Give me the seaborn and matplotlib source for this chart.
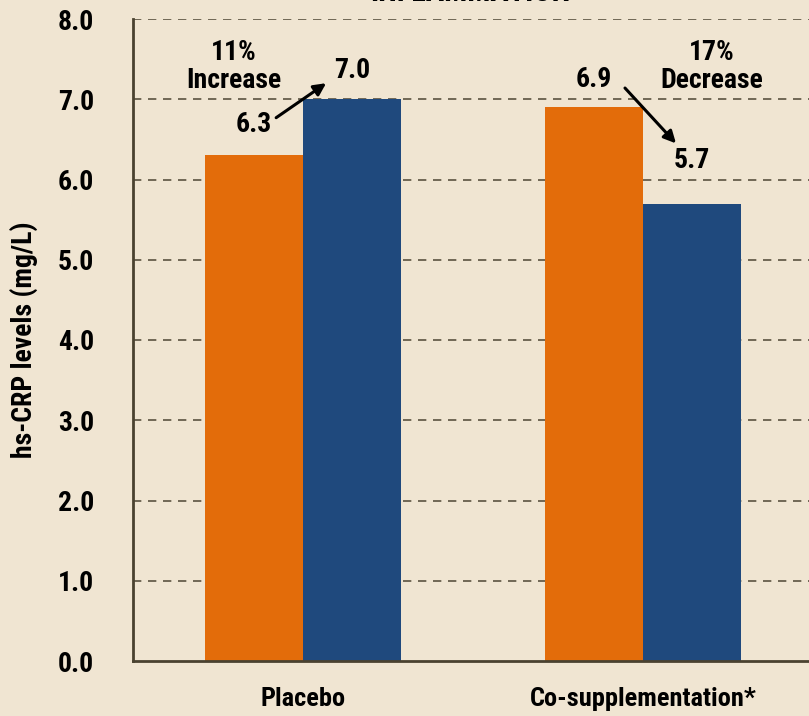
import matplotlib
matplotlib.use("Agg")
import matplotlib.pyplot as plt
import seaborn as sns
import pandas as pd
import numpy as np
from matplotlib.ticker import FixedLocator

# ---- data ----
groups = ["Placebo", "Co-supplementation*"]
timepoints = ["Baseline", "Follow-up"]
baseline = [6.3, 6.9]
followup = [7.0, 5.7]
change_labels = ["11%\nIncrease", "17%\nDecrease"]
yticks = [0.0, 1.0, 2.0, 3.0, 4.0, 5.0, 6.0, 7.0, 8.0]
title = "INFLAMMATION"
ylabel = "hs-CRP levels (mg/L)"

df = pd.DataFrame({
    "group": groups * 2,
    "time": [timepoints[0]] * 2 + [timepoints[1]] * 2,
    "value": baseline + followup,
})

BG = "#F0E5D2"
ORANGE = "#E36C0A"
BLUE = "#1F497D"
AX = "#4A4230"
FONT = ["Roboto Condensed", "Liberation Sans Narrow", "DejaVu Sans"]
ST = "condensed"

sns.set_theme(style="white")
plt.rcParams["font.family"] = FONT
plt.rcParams["font.stretch"] = ST
plt.rcParams["font.weight"] = "bold"
plt.rcParams["text.color"] = "black"
plt.rcParams["xtick.labelcolor"] = "black"
plt.rcParams["ytick.labelcolor"] = "black"
plt.rcParams["axes.labelcolor"] = "black"

fig = plt.figure(figsize=(8.09, 7.16), dpi=100, facecolor=BG)
ax = fig.add_axes([133 / 809, 1 - 661 / 716, (813 - 133) / 809, (661 - 19) / 716])
ax.set_facecolor(BG)

sns.barplot(data=df, x="group", y="value", hue="time", order=groups,
            hue_order=timepoints, palette=[ORANGE, BLUE], width=0.575,
            legend=False, ax=ax, errorbar=None, saturation=1, linewidth=0)

ax.set_xlim(-0.5, 1.5)
ax.set_ylim(0, 8)
ax.set_yticks(yticks)
ax.set_yticklabels([f"{t:.1f}" for t in yticks])
ax.xaxis.set_minor_locator(FixedLocator([-0.5, 0.5, 1.5]))
ax.tick_params(axis="x", which="major", length=0, pad=19, labelsize=19)
ax.tick_params(axis="x", which="minor", length=8, width=1.5, color=AX, direction="out")
ax.tick_params(axis="y", length=11, width=1.5, color=AX, labelsize=20, pad=17)
for lab in ax.get_xticklabels() + ax.get_yticklabels():
    lab.set_fontweight("bold")
    lab.set_family(FONT)
    lab.set_stretch(ST)
    lab.set_color("black")

for sp in ["top", "right"]:
    ax.spines[sp].set_visible(False)
for sp in ["left", "bottom"]:
    ax.spines[sp].set_color(AX)
    ax.spines[sp].set_linewidth(2)

for t in yticks[1:]:
    ax.axhline(t, color="#5A5240", lw=1.2, ls=(0, (5, 4)), zorder=0)

ax.set_xlabel("")
ax.set_ylabel(ylabel, fontsize=20, fontweight="bold", labelpad=14, family=FONT,
              fontstretch=ST, color="black")

off = 0.1437
tk = dict(fontsize=20, fontweight="bold", ha="center", va="center", family=FONT,
          fontstretch=ST, color="black")
for i in range(len(groups)):
    ax.text(i - off, baseline[i] + (0.38 if i == 0 else 0.34), f"{baseline[i]:.1f}", **tk)
    ax.text(i + off, followup[i] + (0.36 if i == 0 else 0.54), f"{followup[i]:.1f}", **tk)

ax.text(0 - 0.203, 7.41, change_labels[0], linespacing=1.08, **tk)
ax.text(1 + 0.203, 7.41, change_labels[1], linespacing=1.08, **tk)

arrow = dict(arrowstyle="-|>,head_length=0.6,head_width=0.3", color="black", lw=2.2,
             shrinkA=0, shrinkB=0)
ax.annotate("", xy=(0.068, 7.20), xytext=(-0.079, 6.77), arrowprops=arrow)
ax.annotate("", xy=(1.097, 6.45), xytext=(0.947, 7.14), arrowprops=arrow)

fig.text(470 / 809, 1 - 1 / 716, title, ha="center", va="baseline", fontsize=22,
         fontweight="bold", family=FONT, fontstretch=ST, color="black")

fig.savefig("out.png", dpi=100, facecolor=BG)
